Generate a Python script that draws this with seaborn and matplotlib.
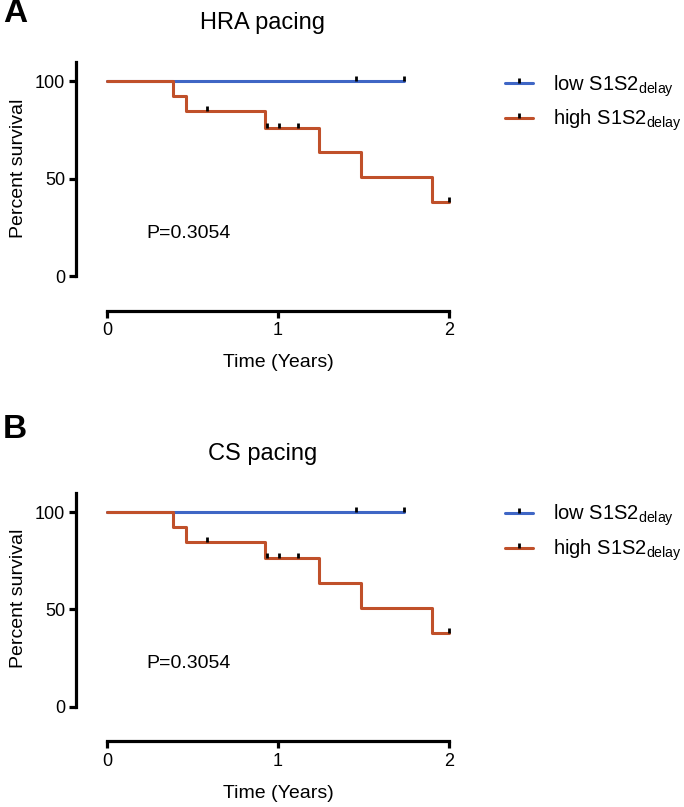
import numpy as np
import pandas as pd
import matplotlib
matplotlib.use("Agg")
import matplotlib.pyplot as plt
from matplotlib.lines import Line2D
import seaborn as sns

# Kaplan-Meier steps (both panels show the same curves)
low_time = [0.0, 1.737]
low_surv = [100.0, 100.0]
low_cens_time = [1.456, 1.737]
low_cens_surv = [100.0, 100.0]

high_time = [0.0, 0.386, 0.46, 0.924, 1.242, 1.485, 1.902, 2.0]
high_surv = [100.0, 92.3, 84.6, 76.2, 63.5, 50.8, 38.1, 38.1]
high_cens_time = [0.583, 0.936, 1.004, 1.115, 2.0]
high_cens_surv = [84.6, 76.2, 76.2, 76.2, 38.1]

panel_titles = ["HRA pacing", "CS pacing"]
panel_letters = ["A", "B"]
p_values = ["P=0.3054", "P=0.3054"]
group_labels = ["low S1S2$_{\\mathrm{delay}}$", "high S1S2$_{\\mathrm{delay}}$"]
x_ticks = [0, 1, 2]
y_ticks = [0, 50, 100]

BLUE = "#3F66C5"
ORANGE = "#C0502A"

sns.set_theme(style="ticks")
plt.rcParams["font.family"] = ["Liberation Sans", "DejaVu Sans"]
plt.rcParams["mathtext.fontset"] = "custom"
plt.rcParams["mathtext.rm"] = "Liberation Sans"
plt.rcParams["text.color"] = "black"
plt.rcParams["axes.labelcolor"] = "black"

W, H = 684, 807
fig = plt.figure(figsize=(W / 100, H / 100), dpi=100)

tick_marker = [(0, 0), (0, 1)]

# axes boxes in pixels: left, top, right, bottom
boxes = [(107, 61.7, 449, 276.3), (107, 492.7, 449, 706.7)]
letter_y = [14, 430]
legend_top = [73, 503]

low_df = pd.DataFrame({"time": low_time, "surv": low_surv})
high_df = pd.DataFrame({"time": high_time, "surv": high_surv})

for i, (l, t, r, b) in enumerate(boxes):
    ax = fig.add_axes([l / W, 1 - b / H, (r - l) / W, (b - t) / H])
    sns.lineplot(data=low_df, x="time", y="surv", ax=ax, color=BLUE, lw=2.2,
                 drawstyle="steps-post", clip_on=False, estimator=None)
    sns.lineplot(data=high_df, x="time", y="surv", ax=ax, color=ORANGE, lw=2.2,
                 drawstyle="steps-post", clip_on=False, estimator=None)
    ax.plot(low_cens_time, low_cens_surv, ls="none", marker=tick_marker,
            ms=7, mew=2, mec="black", clip_on=False)
    ax.plot(high_cens_time, high_cens_surv, ls="none", marker=tick_marker,
            ms=7, mew=2, mec="black", clip_on=False)

    ax.set_xlim(0, 2)
    ax.set_ylim(0, 110)
    ax.set_xticks(x_ticks)
    ax.set_yticks(y_ticks)
    sns.despine(ax=ax)
    ax.spines["left"].set_position(("outward", 22))
    ax.spines["bottom"].set_position(("outward", 25))
    for s in ["left", "bottom"]:
        ax.spines[s].set_linewidth(2.3)
        ax.spines[s].set_color("black")
    ax.tick_params(axis="both", width=2.3, length=5, pad=3,
                   labelsize=13, colors="black")
    ax.set_xlabel("Time (Years)", fontsize=14)
    ax.set_ylabel("Percent survival", fontsize=14)
    ax.xaxis.set_label_coords(0.5, -86.5 / (b - t))
    ax.xaxis.label.set_va("center")
    ax.yaxis.set_label_coords((19 - l) / (r - l), 0.505)
    ax.yaxis.label.set_va("center")
    ax.set_title(panel_titles[i], fontsize=17, x=(263 - l) / (r - l),
                 y=(b - (t - 39)) / (b - t), va="center", pad=0)
    ax.text(0.228, 22, p_values[i], fontsize=14, va="center", ha="left")

    fig.text(3 / W, 1 - letter_y[i] / H, panel_letters[i], fontsize=24,
             fontweight="bold", va="center", ha="left")

    handles = [
        Line2D([0], [0], color=BLUE, lw=2.2, marker=tick_marker, ms=7, mew=2, mec="black"),
        Line2D([0], [0], color=ORANGE, lw=2.2, marker=tick_marker, ms=7, mew=2, mec="black"),
    ]
    fig.legend(handles, group_labels, loc="upper left",
               bbox_to_anchor=(505 / W, 1 - legend_top[i] / H),
               frameon=False, fontsize=14.5, handlelength=1.4, handletextpad=1.0,
               borderpad=0, borderaxespad=0, labelspacing=0.45, numpoints=1)

fig.savefig("out.png", dpi=100)
